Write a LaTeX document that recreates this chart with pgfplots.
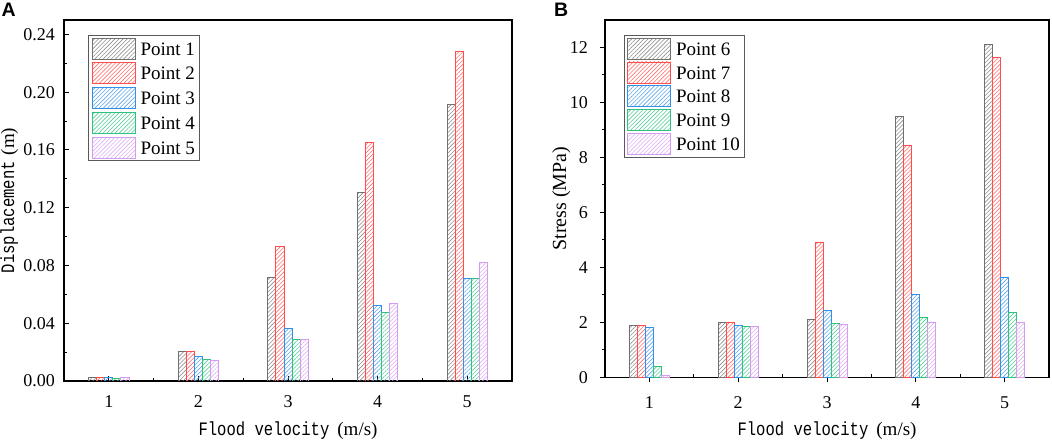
\documentclass[border=0pt]{standalone}
\usepackage{fontspec}
\setmainfont{Liberation Serif}
\newfontfamily\lmono[FakeStretch=0.82]{Liberation Mono}
\newfontfamily\lsans{Liberation Sans}
\usepackage{pgfplots}
\pgfplotsset{compat=1.18}
\usetikzlibrary{patterns.meta}
\definecolor{cgray}{HTML}{707070}
\definecolor{cred}{HTML}{FF4D4D}
\definecolor{cblue}{HTML}{3390E8}
\definecolor{cgreen}{HTML}{2FC27F}
\definecolor{cviolet}{HTML}{D49CF0}
\pgfplotsset{
  hatch/.style={draw=#1, pattern={Lines[angle=45,distance=2.9bp,line width=0.6bp]}, pattern color=#1!80, line width=0.9bp},
  common/.style={
    scale only axis, anchor=south west,
    xmin=0.5, xmax=5.5, xtick={1,...,5}, minor xtick={1.5,2.5,3.5,4.5},
    ymin=0, minor y tick num=1,
    tick pos=left,
    axis line style={line width=1.2bp},
    tick style={line width=1bp, black},
    major tick length=5bp, minor tick length=3bp,
    ticklabel style={font=\fontsize{18bp}{20bp}\selectfont},
    /pgf/number format/assume math mode=true,
    xticklabel style={anchor=base, inner sep=0pt, yshift=-26.5bp},
    yticklabel style={anchor=east, inner sep=0pt},
    ybar=0pt, bar width=0.09,
    legend cell align=left,
    legend image code/.code={\draw[##1] (0bp,-9.5bp) rectangle (43bp,11.5bp);},
  },
}
\begin{document}
\begin{tikzpicture}
\useasboundingbox (0,0) rectangle (1052bp,441bp);
\node[anchor=base west, inner sep=0pt, font=\lsans\bfseries\fontsize{19.5bp}{22bp}\selectfont] at (1.5bp,424bp) {A};
\node[anchor=base west, inner sep=0pt, font=\lsans\bfseries\fontsize{19.5bp}{22bp}\selectfont] at (554bp,424bp) {B};
% Panel A
\begin{axis}[common,
  at={(64bp,60bp)}, width=448bp, height=361bp,
  ymax=0.25, ytick={0,0.04,...,0.24},
  tick align=inside,
  yticklabel style={xshift=-9bp, /pgf/number format/.cd, fixed, fixed zerofill, precision=2},
  xlabel={{\lmono\fontsize{19bp}{22bp}\selectfont Flood velocity}\hspace{8bp}{\fontsize{19bp}{22bp}\selectfont(m/s)}},
  xlabel style={at={(axis description cs:0.5,-0.1496)}, anchor=base},
  ylabel={{\lmono\fontsize{19bp}{22bp}\selectfont Displacement}\hspace{6bp}{\fontsize{19bp}{22bp}\selectfont(m)}},
  ylabel style={at={(axis description cs:-0.1116,0.5)}, anchor=base},
  legend style={at={(0.0536,0.958)}, anchor=north west, draw=black!65, line width=1.2bp,
    inner xsep=3bp, inner ysep=2bp, row sep=2.8bp, column sep=3bp,
    font=\fontsize{19bp}{22bp}\selectfont, nodes={inner sep=2bp, text depth=0.15em}},
]
\addplot[hatch=cgray] coordinates {(1,0.0023)(2,0.0208)(3,0.0716)(4,0.1305)(5,0.1915)};
\addplot[hatch=cred] coordinates {(1,0.0023)(2,0.0203)(3,0.0931)(4,0.1652)(5,0.2285)};
\addplot[hatch=cblue] coordinates {(1,0.0023)(2,0.0169)(3,0.0363)(4,0.0524)(5,0.0707)};
\addplot[hatch=cgreen] coordinates {(1,0.0018)(2,0.0146)(3,0.0289)(4,0.0474)(5,0.0707)};
\addplot[hatch=cviolet] coordinates {(1,0.0022)(2,0.0143)(3,0.0286)(4,0.0536)(5,0.0820)};
\legend{Point 1,Point 2,Point 3,Point 4,Point 5}
\end{axis}
% Panel B
\begin{axis}[common,
  at={(605bp,63.7bp)}, width=444bp, height=357.3bp,
  ymax=13, ytick={0,2,...,12},
  tick align=outside,
  minor x tick style={yshift=3bp},
  yticklabel style={xshift=-12bp},
  xlabel={{\lmono\fontsize{19bp}{22bp}\selectfont Flood velocity}\hspace{8bp}{\fontsize{19bp}{22bp}\selectfont(m/s)}},
  xlabel style={at={(axis description cs:0.5,-0.1615)}, anchor=base},
  ylabel={\fontsize{20bp}{22bp}\selectfont Stress (MPa)},
  ylabel style={at={(axis description cs:-0.0878,0.5)}, anchor=base},
  legend style={at={(0.0428,0.958)}, anchor=north west, draw=black!65, line width=1.2bp,
    inner xsep=2.5bp, inner ysep=2bp, row sep=2bp, column sep=3bp,
    font=\fontsize{19bp}{22bp}\selectfont, nodes={inner sep=2bp, text depth=0.15em}},
]
\addplot[hatch=cgray] coordinates {(1,1.89)(2,1.98)(3,2.11)(4,9.48)(5,12.10)};
\addplot[hatch=cred] coordinates {(1,1.89)(2,1.98)(3,4.90)(4,8.44)(5,11.65)};
\addplot[hatch=cblue] coordinates {(1,1.82)(2,1.90)(3,2.43)(4,3.03)(5,3.63)};
\addplot[hatch=cgreen] coordinates {(1,0.40)(2,1.84)(3,1.97)(4,2.18)(5,2.35)};
\addplot[hatch=cviolet] coordinates {(1,0.07)(2,1.86)(3,1.93)(4,1.98)(5,2.00)};
\legend{Point 6,Point 7,Point 8,Point 9,Point 10}
\end{axis}
\end{tikzpicture}
\end{document}
